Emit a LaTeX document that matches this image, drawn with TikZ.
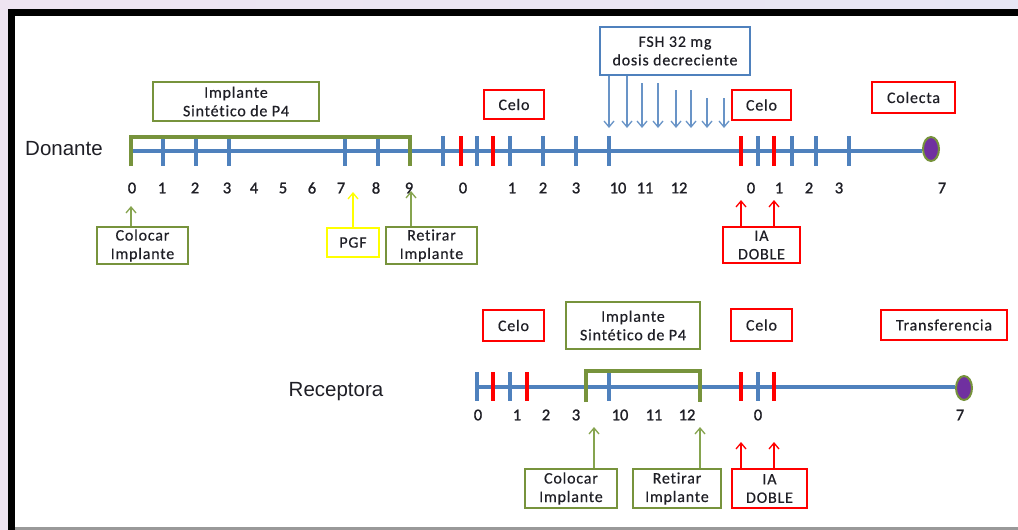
\documentclass[tikz,border=0pt]{standalone}
\usepackage{fontspec}
\setmainfont{Carlito}[LetterSpace=5, Ligatures=NoCommon, FakeBold=0.4]
\newfontfamily\numfont{Carlito}[FakeBold=1.2]
\newfontfamily\lblfont{Liberation Sans}
\usetikzlibrary{arrows.meta,shapes.geometric}
\definecolor{ablue}{HTML}{4F81BD}
\definecolor{agreen}{HTML}{77933C}
\definecolor{lgreen}{HTML}{86A44F}
\definecolor{ared}{HTML}{FF0000}
\definecolor{ayellow}{HTML}{FFFF00}
\definecolor{apurple}{HTML}{7030A0}
\definecolor{ink}{HTML}{1F1F26}
\definecolor{bgleft}{HTML}{EEE4F1}
\definecolor{bgmid}{HTML}{FBE9E8}
\definecolor{bgright}{HTML}{E7E6F4}
\begin{document}
\begin{tikzpicture}[x=1pt,y=-1pt,
  box/.style={draw, line width=2pt, inner sep=0pt, align=center, text=ink,
    font=\fontsize{16}{18.5}\selectfont},
  rbox/.style={box, draw=ared},
  gbox/.style={box, draw=agreen},
  bbox/.style={box, draw=ablue},
  ybox/.style={box, draw=ayellow},
  axis/.style={line width=4pt, ablue},
  tickb/.style={line width=4pt, ablue},
  tickr/.style={line width=4pt, ared},
  bracket/.style={line width=4pt, agreen, line join=miter},
  tipped/.style={-{Straight Barb[length=6pt,width=10pt]}, line width=1.3pt},
  upg/.style={tipped, lgreen},
  upr/.style={tipped, ared},
  upy/.style={tipped, ayellow},
  downb/.style={tipped, ablue!85},
  num/.style={text=ink, font=\numfont\fontsize{16.5}{16.5}\selectfont, inner sep=0pt},
  who/.style={text=ink, font=\lblfont\fontsize{20.5}{20.5}\selectfont, inner sep=0pt},
  endpt/.style={ellipse, draw=agreen, line width=2pt, fill=apurple, inner sep=0pt,
    minimum width=16pt, minimum height=24pt}
]
\useasboundingbox (0,0) rectangle (1018,530);
% slide background and frame
\shade[left color=bgleft, middle color=bgmid, right color=bgright] (0,0) rectangle (1018,530);
\fill[black] (8,9) rectangle (1018,530);
\fill[white] (15,16) rectangle (1018,527);
\fill[black!40] (15,527) rectangle (1018,530);

% ---------------- Donante ----------------
\node[who] (donante) at (64,149) {Donante};
\node[endpt] (endD) at (931,149) {};
\coordinate (startD) at (131,151);
\draw[axis] (startD) -- (endD.west |- startD);
\foreach \t in {163,196,229,345,378,443,477,510,543,576,609,758,792,816,849}
  \draw[tickb] (\t,136) -- (\t,166);
\foreach \t in {461,493,741,774}
  \draw[tickr] (\t,136) -- (\t,166);
\draw[bracket] (131,166) -- (131,137) -- (410,137) -- (410,166);

\foreach \x/\n [count=\i] in {132/0,162/1,195/2,227/3,254/4,283/5,312/6,341/7,376/8,409/9,
    463/0,512/1,543/2,576/3,618/10,645/11,679/12,751/0,779/1,809/2,839/3,942/7}
  \node[num] (nD\i) at (\x,188) {\n};

\node[gbox, minimum width=166pt, minimum height=39pt] (impD) at (236,101.5) {Implante\\Sintético de P4};
\node[rbox, minimum width=60pt, minimum height=29pt] (celoD1) at (514,104.5) {Celo};
\node[bbox, minimum width=150pt, minimum height=48pt] (fsh) at (675,51) {FSH 32 mg\\dosis decreciente};
\node[rbox, minimum width=59pt, minimum height=30pt] (celoD2) at (761.5,105) {Celo};
\node[rbox, minimum width=83pt, minimum height=31pt] (colecta) at (913.5,97.5) {Colecta};

\node[gbox, minimum width=91pt, minimum height=37pt] (colD) at (142.5,245.5) {Colocar\\Implante};
\node[ybox, minimum width=52pt, minimum height=29pt] (pgf) at (353,242.5) {PGF};
\node[gbox, minimum width=91pt, minimum height=37pt] (retD) at (431.5,245.5) {Retirar\\Implante};
\node[rbox, minimum width=77pt, minimum height=36pt] (iaD) at (761.5,245) {IA\\DOBLE};

% FSH doses
\foreach \x/\s [count=\i] in {609/75,627/75,642/83,658/83,676/90,691/90,707/98,724/98} {
  \coordinate (fs\i) at (\x,\s);
  \coordinate (ft\i) at (\x,128);
}
\draw[downb] (fsh.south -| fs1) -- (ft1);
\draw[downb] (fsh.south -| fs2) -- (ft2);
\foreach \i in {3,...,8}
  \draw[downb] (fs\i) -- (ft\i);

% treatments, Donante
\coordinate (aColD) at (131,206);
\coordinate (aPgf) at (353,192);
\coordinate (aRetD) at (411,191);
\coordinate (aIaD1) at (741,200);
\coordinate (aIaD2) at (774,200);
\draw[upg] (colD.north -| aColD) -- (aColD);
\draw[upy] (pgf.north -| aPgf) -- (aPgf);
\draw[upg] (retD.north -| aRetD) -- (aRetD);
\draw[upr] (iaD.north -| aIaD1) -- (aIaD1);
\draw[upr] (iaD.north -| aIaD2) -- (aIaD2);

% ---------------- Receptora ----------------
\node[who] (receptora) at (336,392) {Receptora};
\node[endpt] (endR) at (964,388) {};
\coordinate (startR) at (477,387);
\draw[axis] (startR) -- (endR.west |- startR);
\foreach \t in {477,510,609,758}
  \draw[tickb] (\t,372) -- (\t,401);
\foreach \t in {493,527,741,774}
  \draw[tickr] (\t,372) -- (\t,401);
\draw[bracket] (586,402) -- (586,371) -- (700,371) -- (700,402);

\foreach \x/\n [count=\i] in {478/0,517/1,546/2,576/3,620/10,654/11,687/12,758/0,960/7}
  \node[num] (nR\i) at (\x,415) {\n};

\node[rbox, minimum width=61pt, minimum height=31pt] (celoR1) at (513.5,325.5) {Celo};
\node[gbox, minimum width=134pt, minimum height=47pt] (impR) at (633,325.5) {Implante\\Sintético de P4};
\node[rbox, minimum width=61pt, minimum height=32pt] (celoR2) at (761.5,325) {Celo};
\node[rbox, minimum width=126pt, minimum height=30pt] (transf) at (944,325) {Transferencia};

\node[gbox, minimum width=92pt, minimum height=39pt] (colR) at (571,488.5) {Colocar\\Implante};
\node[gbox, minimum width=88pt, minimum height=39pt] (retR) at (677,488.5) {Retirar\\Implante};
\node[rbox, minimum width=75pt, minimum height=39pt] (iaR) at (769.5,488.5) {IA\\DOBLE};

\coordinate (aColR) at (594,427);
\coordinate (aRetR) at (700,427);
\coordinate (aIaR1) at (741,442);
\coordinate (aIaR2) at (774,442);
\draw[upg] (colR.north -| aColR) -- (aColR);
\draw[upg] (retR.north -| aRetR) -- (aRetR);
\draw[upr] (iaR.north -| aIaR1) -- (aIaR1);
\draw[upr] (iaR.north -| aIaR2) -- (aIaR2);
\end{tikzpicture}
\end{document}
